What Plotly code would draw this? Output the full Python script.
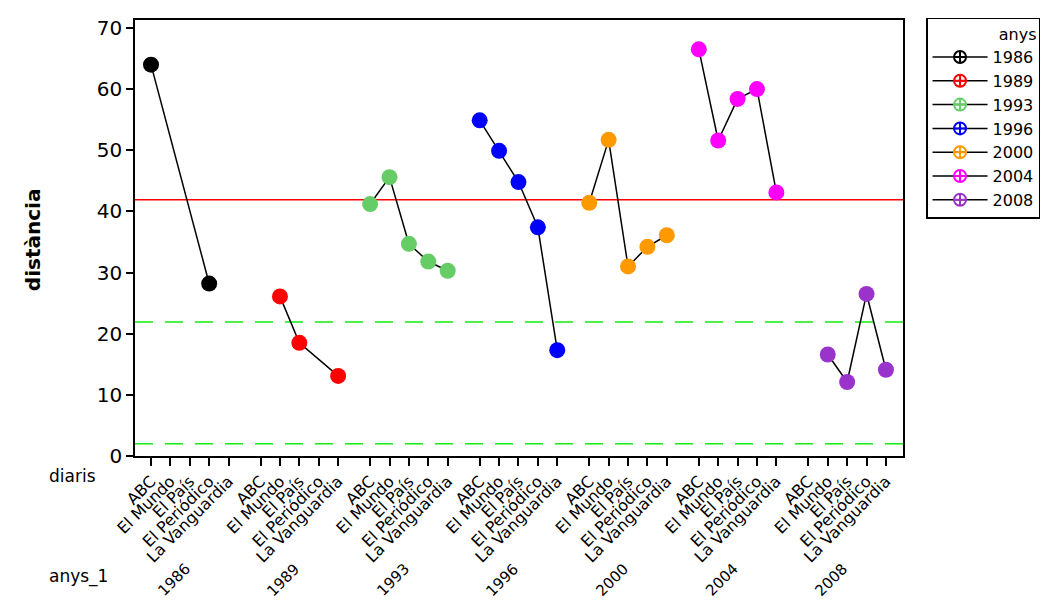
import plotly.graph_objects as go

# ---- data ----
newspapers = ["ABC", "El Mundo", "El País", "El Periódico", "La Vanguardia"]
years = ["1986", "1989", "1993", "1996", "2000", "2004", "2008"]

d1986 = [64.0, None, None, 28.2, None]
d1989 = [None, 26.1, 18.5, None, 13.1]
d1993 = [41.2, 45.6, 34.7, 31.8, 30.3]
d1996 = [54.9, 49.9, 44.8, 37.4, 17.3]
d2000 = [41.4, 51.7, 31.0, 34.2, 36.1]
d2004 = [66.5, 51.6, 58.4, 60.0, 43.1]
d2008 = [None, 16.6, 12.1, 26.5, 14.1]
series = [d1986, d1989, d1993, d1996, d2000, d2004, d2008]

center_line = 41.9
limit_lines = [21.9, 2.0]

# ---- styles ----
colors = ["#000000", "#FF0000", "#66CC66", "#0000FF", "#FF9900", "#FF00FF", "#9933CC"]
GROUP_STEP = 5.65
FONT = "DejaVu Sans"

def pos(g, i):
    return g * GROUP_STEP + i

fig = go.Figure()

for g, (yr, vals, col) in enumerate(zip(years, series, colors)):
    xs, ys = [], []
    for i, v in enumerate(vals):
        if v is not None:
            xs.append(pos(g, i))
            ys.append(v)
    fig.add_trace(go.Scatter(
        x=xs, y=ys, mode="lines+markers", showlegend=False,
        line=dict(color="black", width=1.5),
        marker=dict(symbol="circle", size=16, color=col, line=dict(width=0)),
        hoverinfo="y",
    ))

for yr, col in zip(years, colors):
    fig.add_trace(go.Scatter(
        x=[None], y=[None], mode="lines+markers", name=yr,
        line=dict(color="black", width=1.5),
        marker=dict(symbol="circle-cross-open", size=12, color=col, line=dict(width=2, color=col)),
    ))

# reference lines
fig.add_shape(type="line", xref="paper", x0=0, x1=1, y0=center_line, y1=center_line,
              line=dict(color="#FF0000", width=1.5), layer="below")
for v in limit_lines:
    fig.add_shape(type="line", xref="paper", x0=0, x1=1, y0=v, y1=v,
                  line=dict(color="#11EE11", width=1.5, dash="18px,12px"), layer="below")

tickvals, ticktext = [], []
for g in range(len(years)):
    for i, n in enumerate(newspapers):
        tickvals.append(pos(g, i))
        ticktext.append(n)

annotations = []
for g, yr in enumerate(years):
    annotations.append(dict(
        x=pos(g, 2), y=-0.284, xref="x", yref="paper", text=yr, showarrow=False,
        textangle=-45, xanchor="center", yanchor="middle", xshift=-16,
        font=dict(family=FONT, size=15, color="black"),
    ))
annotations.append(dict(x=-0.1146, y=-0.045, xref="paper", yref="paper", text="diaris",
                        showarrow=False, xanchor="left", yanchor="middle",
                        font=dict(family=FONT, size=17, color="black")))
annotations.append(dict(x=-0.1146, y=-0.277, xref="paper", yref="paper", text="anys_1",
                        showarrow=False, xanchor="left", yanchor="middle",
                        font=dict(family=FONT, size=17, color="black")))
annotations.append(dict(x=-0.1328, y=0.495, xref="paper", yref="paper", text="<b>distància</b>",
                        showarrow=False, textangle=-90, xanchor="center", yanchor="middle",
                        font=dict(family=FONT, size=20, color="black")))

fig.update_layout(
    width=1044, height=593,
    margin=dict(l=127, r=149, t=8, b=145),
    paper_bgcolor="white", plot_bgcolor="white",
    font=dict(family=FONT, color="black"),
    showlegend=True,
    legend=dict(
        x=1.03, y=1.005, xanchor="left", yanchor="top",
        bordercolor="black", borderwidth=1.5, bgcolor="white",
        font=dict(family=FONT, size=16, color="black"),
        title=dict(text="anys", side="top right", font=dict(family=FONT, size=16)),
        itemwidth=55, tracegroupgap=0,
        entrywidth=118, entrywidthmode="pixels",
    ),
    annotations=annotations,
    xaxis=dict(
        range=[-0.825, 6 * GROUP_STEP + 4 + 0.88],
        tickmode="array", tickvals=tickvals, ticktext=ticktext, tickangle=-45,
        ticks="outside", ticklen=8, tickwidth=1.5, tickcolor="black",
        showline=True, linecolor="black", linewidth=1.5, mirror=True,
        showgrid=False, zeroline=False,
        tickfont=dict(family=FONT, size=16, color="black"),
    ),
    yaxis=dict(
        range=[0, 71.3], tickvals=[0, 10, 20, 30, 40, 50, 60, 70],
        ticks="outside", ticklen=7, tickwidth=1.5, tickcolor="black",
        showline=True, linecolor="black", linewidth=1.5, mirror=True,
        showgrid=False, zeroline=False,
        tickfont=dict(family=FONT, size=20, color="black"),
    ),
)

fig.write_html("out.html")
